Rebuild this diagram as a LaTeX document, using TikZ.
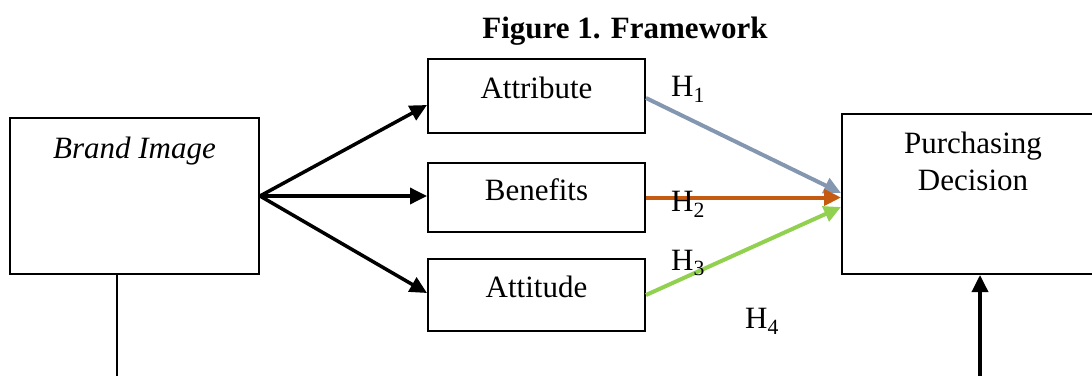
\documentclass[tikz,border=0pt]{standalone}
\usepackage{fontspec}
\setmainfont{Liberation Serif}
\usetikzlibrary{arrows.meta,calc}
\definecolor{hgray}{HTML}{8497B0}
\definecolor{horange}{HTML}{C55A11}
\definecolor{hgreen}{HTML}{92D050}
\begin{document}
\begin{tikzpicture}[x=1pt,y=-1pt,
  every node/.style={font=\fontsize{31}{37}\selectfont},
  box/.style={draw, line width=2pt, inner sep=0pt},
  smallbox/.style={box, minimum width=217pt, text height=21pt, text depth=16pt},
  blk/.style={line width=3.5pt, -{Triangle[length=17pt,width=16pt]}},
  hyp/.style={line width=4pt, -{Triangle[length=17pt,width=16pt]}},
  hlab/.style={inner sep=0pt}]
\useasboundingbox (0,0) rectangle (1092,375);
\clip (0,0) rectangle (1092,375);
\node[font=\bfseries\fontsize{31}{37}\selectfont] (title) at (625,31) {Figure 1. Framework};
\node[box, minimum width=249pt, minimum height=156pt,
  label={[yshift=45pt]center:\textit{Brand Image}}] (bi) at (134.5,196) {};
\node[smallbox, minimum height=74pt] (attr) at (536.5,96) {Attribute};
\node[smallbox, minimum height=69pt] (ben) at (536.5,197.5) {Benefits};
\node[smallbox, minimum height=72pt] (att) at (536.5,295) {Attitude};
\node[box, minimum width=262pt, minimum height=160pt,
  label={[yshift=32.5pt, align=center]center:Purchasing\\Decision}] (pd) at (973,194) {};
\draw[blk] (bi.east) -- ($(attr.west)+(0,9)$);
\draw[blk] (bi.east) -- (bi.east -| ben.west);
\draw[blk] (bi.east) -- ($(att.west)+(0,-2)$);
\draw[hyp, hgray] ($(attr.east)+(0,2)$) -- ($(pd.west)+(0,-1)$);
\draw[hyp, horange] (ben.east) -- (ben.east -| pd.west);
\draw[hyp, hgreen] (att.east) -- ($(pd.west)+(0,13)$);
\coordinate (blb) at (117,380);
\draw[line width=2pt] (blb |- bi.south) -- (blb);
\coordinate (pdb) at (980,380);
\draw[blk] (pdb) -- (pdb |- pd.south);
\node[hlab] (h1) at (688,89) {H\textsubscript{1}};
\node[hlab] (h2) at (688,204) {H\textsubscript{2}};
\node[hlab] (h3) at (688,263) {H\textsubscript{3}};
\node[hlab] (h4) at (762,321) {H\textsubscript{4}};
\end{tikzpicture}
\end{document}
